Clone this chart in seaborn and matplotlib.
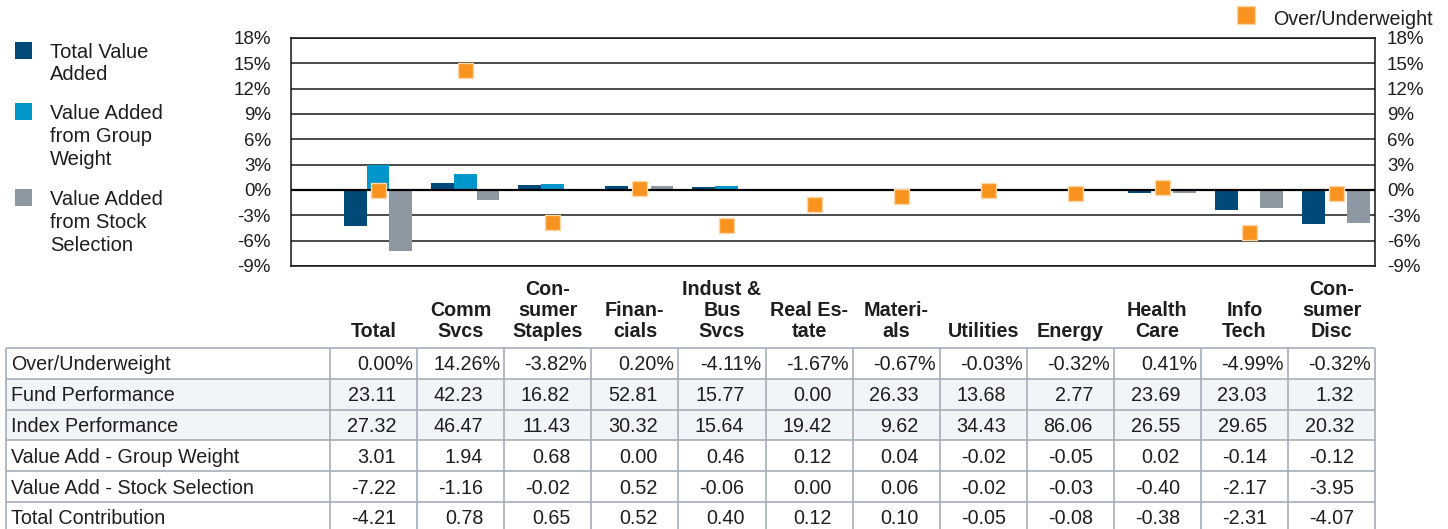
import numpy as np
import pandas as pd
import matplotlib
matplotlib.use("Agg")
import matplotlib.pyplot as plt
import matplotlib.transforms as mtransforms
from matplotlib.patches import Rectangle
import seaborn as sns

# ---------------- data ----------------
categories = ["Total", "Comm\nSvcs", "Con-\nsumer\nStaples", "Finan-\ncials",
              "Indust &\nBus\nSvcs", "Real Es-\ntate", "Materi-\nals", "Utilities",
              "Energy", "Health\nCare", "Info\nTech", "Con-\nsumer\nDisc"]
over_under = [0.00, 14.26, -3.82, 0.20, -4.11, -1.67, -0.67, -0.03, -0.32, 0.41, -4.99, -0.32]
fund_perf = [23.11, 42.23, 16.82, 52.81, 15.77, 0.00, 26.33, 13.68, 2.77, 23.69, 23.03, 1.32]
index_perf = [27.32, 46.47, 11.43, 30.32, 15.64, 19.42, 9.62, 34.43, 86.06, 26.55, 29.65, 20.32]
va_group = [3.01, 1.94, 0.68, 0.00, 0.46, 0.12, 0.04, -0.02, -0.05, 0.02, -0.14, -0.12]
va_stock = [-7.22, -1.16, -0.02, 0.52, -0.06, 0.00, 0.06, -0.02, -0.03, -0.40, -2.17, -3.95]
total_contrib = [-4.21, 0.78, 0.65, 0.52, 0.40, 0.12, 0.10, -0.05, -0.08, -0.38, -2.31, -4.07]

series_names = ["Total Value Added", "Value Added from Group Weight", "Value Added from Stock Selection"]
legend_labels = ["Total Value\nAdded", "Value Added\nfrom Group\nWeight", "Value Added\nfrom Stock\nSelection"]
marker_label = "Over/Underweight"
row_labels = ["Over/Underweight", "Fund Performance", "Index Performance",
              "Value Add - Group Weight", "Value Add - Stock Selection", "Total Contribution"]
yticks = [-9, -6, -3, 0, 3, 6, 9, 12, 15, 18]

# ---------------- style ----------------
DARK = "#004a7a"
LIGHT = "#0096cb"
GRAY = "#8e98a3"
ORANGE = "#f7931e"
ORANGE_EDGE = "#fcd6a6"
TXT = "#1e1e1e"
palette = dict(zip(series_names, [DARK, LIGHT, GRAY]))

sns.set_theme(style="white")
plt.rcParams["font.family"] = ["Liberation Sans", "DejaVu Sans"]

W, H = 1448, 529
fig = plt.figure(figsize=(W / 100, H / 100), dpi=100)

# main chart axes (pixel layout)
L, R, T, B = 291, 1375, 38, 266
ax = fig.add_axes([L / W, 1 - B / H, (R - L) / W, (B - T) / H])

df = pd.DataFrame({
    "cat": categories * 3,
    "series": np.repeat(series_names, len(categories)),
    "value": total_contrib + va_group + va_stock,
})
sns.barplot(data=df, x="cat", y="value", hue="series", order=categories,
            hue_order=series_names, palette=palette, width=0.78, gap=0,
            saturation=1, legend=False, linewidth=0, ax=ax, zorder=2)
sns.stripplot(x=categories, y=over_under, order=categories, jitter=False,
              marker="s", size=10.8, color=ORANGE, edgecolor=ORANGE_EDGE,
              linewidth=1.0, ax=ax, zorder=5)

ax.set_xlim(-1.0, 11.447)
ax.set_ylim(-9, 18)
ax.set_yticks(yticks)
ax.set_yticklabels([f"{t}%" for t in yticks])
ax.set_xlabel("")
ax.set_ylabel("")
ax.yaxis.grid(True, color="#1a1a1a", lw=1.1)
ax.xaxis.grid(False)
ax.set_axisbelow(True)
ax.axhline(0, color="black", lw=1.6, zorder=4)
for s in ax.spines.values():
    s.set_visible(True)
    s.set_color("#111111")
    s.set_linewidth(1.1)
ax.tick_params(axis="y", length=0, pad=14.4, labelsize=13.5, labelcolor=TXT)
ax.tick_params(axis="x", length=0, pad=54, labelsize=14.2, labelcolor=TXT)
offset = mtransforms.ScaledTranslation(-0.045, 0, fig.dpi_scale_trans)
for lab in ax.get_xticklabels():
    lab.set_verticalalignment("bottom")
    lab.set_fontweight("bold")
    lab.set_linespacing(1.14)
    lab.set_transform(lab.get_transform() + offset)

ax2 = ax.twinx()
ax2.set_ylim(-9, 18)
ax2.set_yticks(yticks)
ax2.set_yticklabels([f"{t}%" for t in yticks])
ax2.tick_params(axis="y", length=0, pad=8.6, labelsize=13.5, labelcolor=TXT)
for s in ax2.spines.values():
    s.set_visible(False)
ax2.grid(False)

# ---------------- overlay (legends + table) in pixel coords ----------------
ov = fig.add_axes([0, 0, 1, 1], zorder=-1)
ov.set_xlim(0, W)
ov.set_ylim(H, 0)
ov.axis("off")

# left legend
sq_tops = [42, 103, 189]
text_tops = [42.5, 104, 190]
for col, lbl, st, tt in zip([DARK, LIGHT, GRAY], legend_labels, sq_tops, text_tops):
    ov.add_patch(Rectangle((15, st), 17, 17, facecolor=col, edgecolor="none"))
    ov.text(50, tt, lbl, fontsize=14.5, color=TXT, va="top", ha="left", linespacing=1.26)

# right legend
ov.add_patch(Rectangle((1237, 6), 18, 18, facecolor=ORANGE, edgecolor=ORANGE_EDGE, lw=1))
ov.text(1273, 25, marker_label, fontsize=14.2, color=TXT, va="baseline", ha="left")

# table
t_left, c_x0, c_w = 6, 330, 87.1
t_top, r_h = 348, 30.8
t_right = c_x0 + c_w * len(categories)
n_rows = len(row_labels)
ov.add_patch(Rectangle((t_left, t_top + r_h), t_right - t_left, 2 * r_h,
                       facecolor="#f1f5f8", edgecolor="none"))
GRID = "#a6aeb9"
for r in range(n_rows + 1):
    y = t_top + r * r_h
    ov.plot([t_left, t_right], [y, y], color=GRID, lw=1.2, solid_capstyle="butt")
xs = [t_left] + [c_x0 + k * c_w for k in range(len(categories) + 1)]
for x in xs:
    ov.plot([x, x], [t_top, t_top + n_rows * r_h], color=GRID, lw=1.2, solid_capstyle="butt")

rows = [over_under, fund_perf, index_perf, va_group, va_stock, total_contrib]
for r, (lbl, vals) in enumerate(zip(row_labels, rows)):
    yc = t_top + (r + 0.5) * r_h + 1.5
    ov.text(11, yc, lbl, fontsize=14.2, color=TXT, va="center", ha="left")
    for k, v in enumerate(vals):
        cr = c_x0 + (k + 1) * c_w
        if r == 0:
            ov.text(cr - 4, yc, f"{v:.2f}%", fontsize=14.2, color=TXT, va="center", ha="right")
        else:
            ov.text(cr - 21, yc, f"{v:.2f}", fontsize=14.2, color=TXT, va="center", ha="right")

fig.savefig("out.png", dpi=100)
